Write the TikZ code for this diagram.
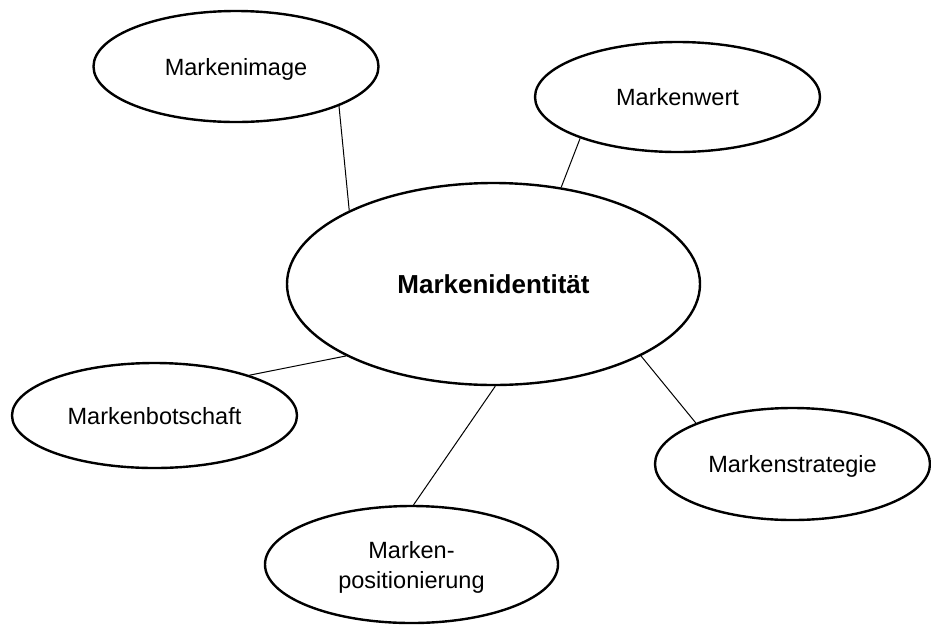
\documentclass[tikz,border=0pt]{standalone}
\usepackage{fontspec}
\setmainfont{Liberation Sans}
\usetikzlibrary{shapes.geometric}
\begin{document}
\begin{tikzpicture}[x=1pt,y=-1pt,
  bubble/.style={ellipse,draw=black,line width=2.4pt,inner sep=0pt,align=center,
    text depth=0pt,font=\fontsize{23.5}{30}\selectfont},
  link/.style={draw=black,line width=1pt}]
\useasboundingbox (0,0) rectangle (931,625);
\fill[white] (0,0) rectangle (931,625);
\node[bubble,minimum width=413pt,minimum height=202pt,font=\bfseries\fontsize{26}{31}\selectfont] (C) at (493.5,284) {Markenidentität};
\node[bubble,minimum width=285pt,minimum height=111pt] (A) at (236,66.5) {Markenimage};
\node[bubble,minimum width=285pt,minimum height=110pt] (W) at (677.5,97) {Markenwert};
\node[bubble,minimum width=285pt,minimum height=105pt] (B) at (154.5,415.5) {Markenbotschaft};
\node[bubble,minimum width=275pt,minimum height=112pt] (S) at (792.5,464) {Markenstrategie};
\node[bubble,minimum width=293pt,minimum height=117pt] (P) at (411.5,564.5) {Marken-\\positionierung};
\draw[link] (A.-21.7) -- (C.153.5);
\draw[link] (W.-157.8) -- (C.55.8);
\draw[link] (B.23.4) -- (C.206.5);
\draw[link] (S.157) -- (C.-26.5);
\draw[link] (P.88.6) -- (C.-89.2);
\end{tikzpicture}
\end{document}
